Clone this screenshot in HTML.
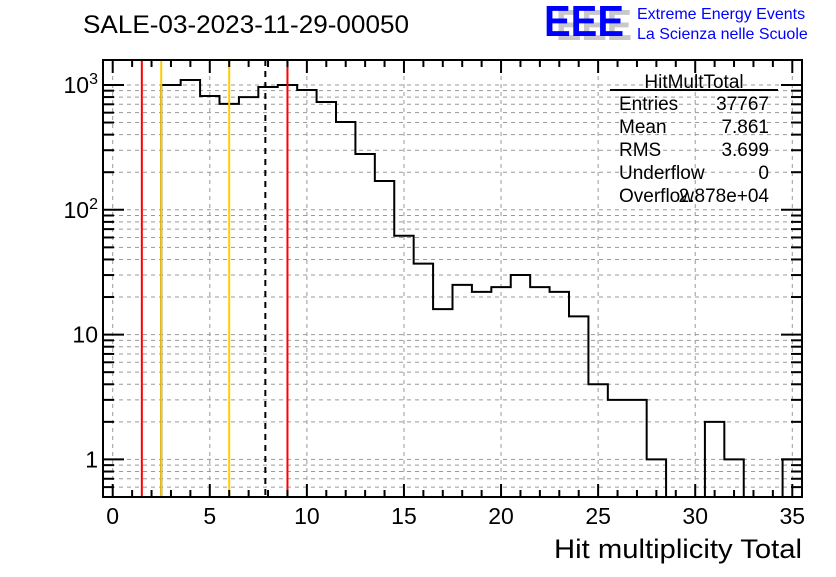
<!DOCTYPE html>
<html><head><meta charset="utf-8"><style>
body{margin:0;background:#fff;width:836px;height:572px;overflow:hidden}
svg{font-family:"Liberation Sans",sans-serif}
</style></head><body>
<svg id="c" width="836" height="572">
<text x="83" y="33" font-size="25" textLength="326" lengthAdjust="spacingAndGlyphs">SALE-03-2023-11-29-00050</text>
<g>
<text x="556" y="40" font-size="44" font-weight="bold" fill="#c8c8c8" textLength="76" lengthAdjust="spacingAndGlyphs">EEE</text>
<text x="544" y="36" font-size="44" font-weight="bold" fill="#0000ff" textLength="80" lengthAdjust="spacingAndGlyphs">EEE</text>
<text x="637" y="19" font-size="16" fill="#0000ff">Extreme Energy Events</text>
<text x="637" y="39" font-size="16" fill="#0000ff">La Scienza nelle Scuole</text>
</g>
<g id="grid"></g><g id="marks"></g><g id="axes"></g>
<g font-size="19">
<text x="694" y="88" text-anchor="middle">HitMultTotal</text>
<line x1="610" y1="90" x2="778" y2="90" stroke="#000" stroke-width="2"/>
<text x="619" y="110">Entries</text><text x="769" y="110" text-anchor="end">37767</text>
<text x="619" y="133">Mean</text><text x="769" y="133" text-anchor="end">7.861</text>
<text x="619" y="156">RMS</text><text x="769" y="156" text-anchor="end">3.699</text>
<text x="619" y="179">Underflow</text><text x="769" y="179" text-anchor="end">0</text>
<text x="619" y="202">Overflow</text><text x="769" y="202" text-anchor="end">2.878e+04</text>
</g>
<text x="802" y="558" font-size="27" text-anchor="end" textLength="248" lengthAdjust="spacingAndGlyphs">Hit multiplicity Total</text>
</svg>
<script>
const binCenters=[0,1,2,3,4,5,6,7,8,9,10,11,12,13,14,15,16,17,18,19,20,21,22,23,24,25,26,27,28,29,30,31,32,33,34,35];
const counts=[0,0,0,1000,1096,816,705,800,964,1000,912,730,505,280,170,62,37,16,25,22,24,30,24,22,14,4,3,3,1,0,0,2,1,0,0,1];
const xTicks=[0,5,10,15,20,25,30,35];
const yTicks=[1,10,100,1000];
const yTickLabels=["1","10","10²","10³"];
const vLines=[{v:1.5,c:"#ff0000",d:""},{v:2.5,c:"#ffcc00",d:""},{v:6,c:"#ffcc00",d:""},{v:7.861,c:"#000",d:"6,5"},{v:9,c:"#ff0000",d:""}];
const L=103,R=802,T=60,B=497,xmin=-0.5,xmax=35.5,ymin=0.5,ymax=1585;
const X=v=>L+(v-xmin)/(xmax-xmin)*(R-L);
const Y=v=>B-(Math.log10(v)-Math.log10(ymin))/(Math.log10(ymax)-Math.log10(ymin))*(B-T);
const NS="http://www.w3.org/2000/svg";
function mk(t,a,p){const e=document.createElementNS(NS,t);for(const k in a)e.setAttribute(k,a[k]);p.appendChild(e);return e;}
const grid=document.getElementById('grid'),marks=document.getElementById('marks'),axes=document.getElementById('axes');
for(const t of xTicks){const g=mk('line',{x1:X(t),x2:X(t),y1:T,y2:B,stroke:'#999','stroke-dasharray':'4,4'},grid);

}
for(let d=0.1;d<=1000;d*=10)for(let m=1;m<10;m++){const v=d*m;if(v<ymin||v>ymax)continue;
const g=mk('line',{x1:L,x2:R,y1:Y(v),y2:Y(v),stroke:'#999','stroke-dasharray':'4,4'},grid);

}
let d='';let first=true;
for(let i=0;i<binCenters.length;i++){const c=counts[i];const y=c>0?Y(c):B;const x0=X(binCenters[i]-0.5),x1=X(binCenters[i]+0.5);
if(first){d+=`M${x0},${y}`;first=false;}else d+=`L${x0},${y}`;d+=`L${x1},${y}`;}
const h=mk('path',{d:d,fill:'none',stroke:'#000','stroke-width':2},marks);


for(const l of vLines){const e=mk('line',{x1:X(l.v),x2:X(l.v),y1:T,y2:B,stroke:l.c,'stroke-width':2,'stroke-dasharray':l.d},marks);

}
const f=mk('rect',{x:L,y:T,width:R-L,height:B-T,fill:'none',stroke:'#000','stroke-width':2},axes);


for(let v=0;v<=35;v++){const maj=v%5===0;const len=maj?13:7;
mk('line',{x1:X(v),x2:X(v),y1:B,y2:B-len,stroke:'#000','stroke-width':2},axes);
mk('line',{x1:X(v),x2:X(v),y1:T,y2:T+len,stroke:'#000','stroke-width':2},axes);}
xTicks.forEach(t=>{const e=mk('text',{x:X(t),y:B+27,'font-size':23,'text-anchor':'middle'},axes);e.textContent=t;

});
for(let dd=0.1;dd<=1000;dd*=10)for(let m=1;m<10;m++){const v=dd*m;if(v<ymin||v>ymax)continue;const len=m===1?21:11;
mk('line',{x1:L,x2:L+len,y1:Y(v),y2:Y(v),stroke:'#000','stroke-width':2},axes);
mk('line',{x1:R,x2:R-len,y1:Y(v),y2:Y(v),stroke:'#000','stroke-width':2},axes);}
yTicks.forEach((t,i)=>{const lab=yTickLabels[i];const e=mk('text',{x:L-5,y:Y(t)+8,'font-size':23,'text-anchor':'end'},axes);
if(lab.length===3){e.textContent=lab.slice(0,2);const s=mk('tspan',{dy:-9,'font-size':16},e);s.textContent=lab==="10²"?"2":"3";}else e.textContent=lab;

});
</script>
</body></html>
